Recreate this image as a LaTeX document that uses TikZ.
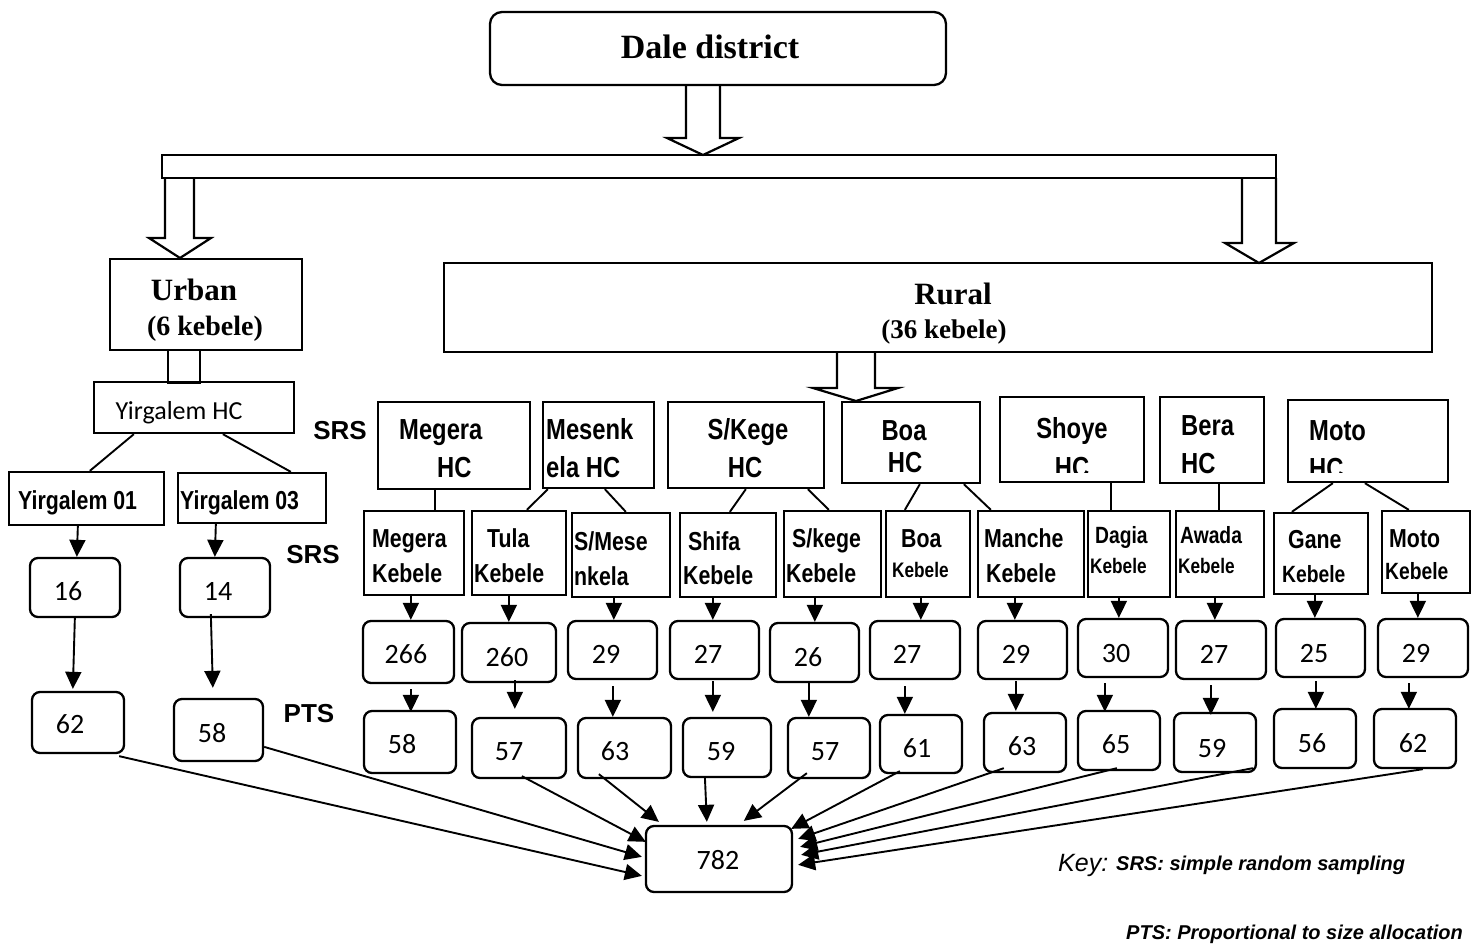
\documentclass[tikz,border=0pt]{standalone}
\usepackage{fontspec}
\setmainfont{Liberation Serif}
\newfontfamily\nb[FakeStretch=0.82]{Liberation Sans}
\newfontfamily\arl{Liberation Sans}
\newfontfamily\calib{Carlito}
\usetikzlibrary{arrows.meta,calc,fit}
\newcommand\mkbox[6][box]{\node[#1, fit={(#3,#4) (#5,#6)}] (#2) {};}
\tikzset{
 box/.style={draw, line width=2.3pt, inner sep=0pt},
 rbox/.style={box, rounded corners=8pt},
 dbox/.style={box, rounded corners=12pt},
 arr/.style={line width=1.9pt, -{Triangle[length=17pt,width=16pt]}},
 lnk/.style={line width=1.9pt},
 hollow/.style={draw, line width=2.2pt, line join=miter},
 txt/.style={inner sep=0pt, anchor=base},
 ltxt/.style={inner sep=0pt, anchor=base west},
 dalef/.style={font=\bfseries\fontsize{34}{36}\selectfont},
 urbf/.style={font=\bfseries\fontsize{31}{33}\selectfont},
 subf/.style={font=\bfseries\fontsize{28}{30}\selectfont},
 rsubf/.style={font=\bfseries\fontsize{27}{29}\selectfont},
 hcf/.style={font=\nb\bfseries\fontsize{29}{30}\selectfont},
 kf/.style={font=\nb\bfseries\fontsize{26}{28}\selectfont},
 kmf/.style={font=\nb\bfseries\fontsize{23.5}{25}\selectfont},
 ksm/.style={font=\nb\bfseries\fontsize{21}{23}\selectfont},
 numf/.style={font=\calib\fontsize{28}{30}\selectfont},
 yhcf/.style={font=\calib\fontsize{26}{28}\selectfont},
 labf/.style={font=\arl\bfseries\fontsize{26}{28}\selectfont},
 keyf/.style={font=\arl\itshape\fontsize{25}{27}\selectfont},
 keyb/.style={font=\arl\bfseries\itshape\fontsize{20}{22}\selectfont},
}
\begin{document}
\begin{tikzpicture}[x=1pt,y=-1pt]
\useasboundingbox (0,0) rectangle (1479,945);

% ---------- top ----------
\mkbox[dbox]{dale}{490}{12}{946}{85}
\node[txt,dalef] (tdale) at (710,58) {Dale district};
\mkbox{bar}{162}{155}{1276}{178}
\draw[hollow] (686,85) -- (686,138) -- (667,138) -- (703,155) -- (739,138) -- (720,138) -- (720,85);
\draw[hollow] (165,178) -- (165,238) -- (149,238) -- (180,258) -- (211,238) -- (194,238) -- (194,178);
\draw[hollow] (1242,178) -- (1242,243) -- (1225,243) -- (1259,263) -- (1294,243) -- (1276,243) -- (1276,178);

\mkbox{urban}{110}{259}{302}{350}
\node[txt,urbf] (turb1) at (194,300) {Urban};
\node[txt,subf] (turb2) at (205,335) {(6 kebele)};
\mkbox{rural}{444}{263}{1432}{352}
\node[txt,urbf] (trur1) at (953,304) {Rural};
\node[txt,rsubf] (trur2) at (944,338) {(36 kebele)};
\draw[hollow] (837,352) -- (837,388) -- (813,388) -- (856,401) -- (898,388) -- (875,388) -- (875,352);
\mkbox{ustem}{168}{350}{200}{383}

% ---------- urban branch ----------
\mkbox{yhc}{94}{382}{294}{433}
\node[txt,yhcf] (tyhc) at (179,419) {Yirgalem HC};
\mkbox{y01}{9}{472}{164}{525}
\node[ltxt,kf] (ty01) at (18,509) {Yirgalem 01};
\mkbox{y03}{178}{473}{326}{523}
\node[ltxt,kf] (ty03) at (180,509) {Yirgalem 03};
\draw[lnk] ($(yhc.south west)+(41,0)$) -- ($(y01.north west)+(82,0)$);
\draw[lnk] ($(yhc.south west)+(130,0)$) -- ($(y03.north west)+(114,0)$);

\mkbox[rbox]{b16}{30}{558}{120}{617}
\node[txt,numf] (t16) at (68,600) {16};
\mkbox[rbox]{b14}{180}{558}{270}{617}
\node[txt,numf] (t14) at (218,600) {14};
\mkbox[rbox]{y62}{32}{692}{124}{753}
\node[txt,numf] (ty62) at (70,733) {62};
\mkbox[rbox]{y58}{174}{699}{263}{761}
\node[txt,numf] (ty58) at (212,742) {58};
\draw[arr] ($(y01.south west)+(70,0)$) -- ($(b16.north west)+(48,0)$);
\draw[arr] ($(y03.south west)+(39,0)$) -- ($(b14.north west)+(36,0)$);
\draw[arr] ($(b16.south west)+(46,0)$) -- ($(y62.north west)+(42,-2)$);
\draw[arr] ($(b14.south west)+(32,-4)$) -- ($(y58.north west)+(40,-10)$);

\node[txt,labf] (srs1) at (340,439) {SRS};
\node[txt,labf] (srs2) at (313,563) {SRS};
\node[txt,labf] (pts) at (309,722) {PTS};

% ---------- health centres ----------
\mkbox{hc1}{378}{402}{530}{489}
\node[ltxt,hcf] (th1a) at (399,439) {Megera};
\node[ltxt,hcf] (th1b) at (437,477) {HC};
\mkbox{hc2}{543}{402}{654}{488}
\node[ltxt,hcf] (th2a) at (546,439) {Mesenk};
\node[ltxt,hcf] (th2b) at (546,477) {ela HC};
\mkbox{hc3}{668}{402}{824}{488}
\node[txt,hcf] (th3a) at (748,439) {S/Kege};
\node[txt,hcf] (th3b) at (745,477) {HC};
\mkbox{hc4}{842}{402}{980}{483}
\node[txt,hcf] (th4a) at (904,440) {Boa};
\node[txt,hcf] (th4b) at (905,472) {HC};
\mkbox{hc5}{1000}{397}{1144}{482}
\node[txt,hcf] (th5a) at (1072,438) {Shoye};
\begin{scope}
\clip (1000,397) rectangle (1144,472);
\node[txt,hcf] (th5b) at (1072,477) {HC};
\end{scope}
\mkbox{hc6}{1160}{397}{1264}{483}
\node[ltxt,hcf] (th6a) at (1181,435) {Bera};
\node[ltxt,hcf] (th6b) at (1181,473) {HC};
\mkbox{hc7}{1288}{400}{1448}{482}
\node[ltxt,hcf] (th7a) at (1309,440) {Moto};
\begin{scope}
\clip (1288,400) rectangle (1448,472);
\node[ltxt,hcf] (th7b) at (1309,478) {HC};
\end{scope}

% ---------- kebeles ----------
\mkbox{k1}{364}{511}{464}{595}
\node[ltxt,kf] (tk1a) at (372,547) {Megera};
\node[ltxt,kf] (tk1b) at (372,582) {Kebele};
\mkbox{k2}{472}{511}{566}{595}
\node[ltxt,kf] (tk2a) at (487,547) {Tula};
\node[ltxt,kf] (tk2b) at (474,582) {Kebele};
\mkbox{k3}{572}{513}{670}{597}
\node[ltxt,kf] (tk3a) at (574,550) {S/Mese};
\node[ltxt,kf] (tk3b) at (574,585) {nkela};
\mkbox{k4}{680}{513}{776}{597}
\node[ltxt,kf] (tk4a) at (688,550) {Shifa};
\node[ltxt,kf] (tk4b) at (683,584) {Kebele};
\mkbox{k5}{784}{511}{881}{597}
\node[ltxt,kf] (tk5a) at (792,547) {S/kege};
\node[ltxt,kf] (tk5b) at (786,582) {Kebele};
\mkbox{k6}{886}{511}{970}{597}
\node[ltxt,kf] (tk6a) at (901,547) {Boa};
\node[ltxt,ksm] (tk6b) at (892,577) {Kebele};
\mkbox{k7}{978}{511}{1084}{597}
\node[ltxt,kf] (tk7a) at (984,547) {Manche};
\node[ltxt,kf] (tk7b) at (986,582) {Kebele};
\mkbox{k8}{1088}{511}{1170}{597}
\node[ltxt,kmf] (tk8a) at (1095,543) {Dagia};
\node[ltxt,ksm] (tk8b) at (1090,573) {Kebele};
\mkbox{k9}{1176}{511}{1264}{597}
\node[ltxt,kmf] (tk9a) at (1180,543) {Awada};
\node[ltxt,ksm] (tk9b) at (1178,573) {Kebele};
\mkbox{k10}{1274}{513}{1368}{594}
\node[ltxt,kf] (tk10a) at (1288,548) {Gane};
\node[ltxt,kmf] (tk10b) at (1282,582) {Kebele};
\mkbox{k11}{1382}{511}{1470}{593}
\node[ltxt,kf] (tk11a) at (1389,547) {Moto};
\node[ltxt,kmf] (tk11b) at (1385,579) {Kebele};

% HC -> kebele
\draw[lnk] ($(hc1.south west)+(58,0)$) -- ($(k1.north west)+(72,0)$);
\draw[lnk] ($(hc2.south west)+(6,0)$) -- ($(k2.north west)+(56,0)$);
\draw[lnk] ($(hc2.south west)+(63,0)$) -- ($(k3.north west)+(55,0)$);
\draw[lnk] ($(hc3.south west)+(79,0)$) -- ($(k4.north west)+(51,0)$);
\draw[lnk] ($(hc3.south west)+(141,0)$) -- ($(k5.north west)+(46,0)$);
\draw[lnk] ($(hc4.south west)+(79,0)$) -- ($(k6.north west)+(20,0)$);
\draw[lnk] ($(hc4.south west)+(123,0)$) -- ($(k7.north west)+(14,0)$);
\draw[lnk] ($(hc5.south west)+(112,0)$) -- ($(k8.north west)+(24,0)$);
\draw[lnk] ($(hc6.south west)+(60,0)$) -- ($(k9.north west)+(44,0)$);
\draw[lnk] ($(hc7.south west)+(46,0)$) -- ($(k10.north west)+(19,0)$);
\draw[lnk] ($(hc7.south west)+(78,0)$) -- ($(k11.north west)+(28,0)$);

% ---------- counts ----------
\mkbox[rbox]{c1}{363}{621}{454}{683}
\node[txt,numf] (tc1) at (406,663) {266};
\mkbox[rbox]{c2}{462}{623}{556}{682}
\node[txt,numf] (tc2) at (507,666) {260};
\mkbox[rbox]{c3}{568}{621}{657}{679}
\node[txt,numf] (tc3) at (606,663) {29};
\mkbox[rbox]{c4}{670}{621}{759}{679}
\node[txt,numf] (tc4) at (708,663) {27};
\mkbox[rbox]{c5}{770}{623}{859}{682}
\node[txt,numf] (tc5) at (808,666) {26};
\mkbox[rbox]{c6}{870}{621}{960}{679}
\node[txt,numf] (tc6) at (907,663) {27};
\mkbox[rbox]{c7}{978}{621}{1067}{679}
\node[txt,numf] (tc7) at (1016,663) {29};
\mkbox[rbox]{c8}{1078}{619}{1168}{677}
\node[txt,numf] (tc8) at (1116,662) {30};
\mkbox[rbox]{c9}{1176}{621}{1266}{679}
\node[txt,numf] (tc9) at (1214,663) {27};
\mkbox[rbox]{c10}{1276}{619}{1365}{677}
\node[txt,numf] (tc10) at (1314,662) {25};
\mkbox[rbox]{c11}{1378}{619}{1468}{677}
\node[txt,numf] (tc11) at (1416,662) {29};

\draw[arr] ($(k1.south west)+(48,0)$) -- ($(c1.north west)+(49,0)$);
\draw[arr] ($(k2.south west)+(38,0)$) -- ($(c2.north west)+(48,0)$);
\draw[arr] ($(k3.south west)+(43,0)$) -- ($(c3.north west)+(47,0)$);
\draw[arr] ($(k4.south west)+(34,0)$) -- ($(c4.north west)+(44,0)$);
\draw[arr] ($(k5.south west)+(32,0)$) -- ($(c5.north west)+(46,0)$);
\draw[arr] ($(k6.south west)+(36,0)$) -- ($(c6.north west)+(52,0)$);
\draw[arr] ($(k7.south west)+(38,0)$) -- ($(c7.north west)+(38,0)$);
\draw[arr] ($(k8.south west)+(32,0)$) -- ($(c8.north west)+(42,0)$);
\draw[arr] ($(k9.south west)+(40,0)$) -- ($(c9.north west)+(40,0)$);
\draw[arr] ($(k10.south west)+(42,0)$) -- ($(c10.north west)+(40,0)$);
\draw[arr] ($(k11.south west)+(37,0)$) -- ($(c11.north west)+(41,0)$);

% ---------- allocated ----------
\mkbox[rbox]{d1}{364}{711}{456}{773}
\node[txt,numf] (td1) at (402,753) {58};
\mkbox[rbox]{d2}{472}{718}{566}{778}
\node[txt,numf] (td2) at (509,760) {57};
\mkbox[rbox]{d3}{578}{718}{671}{778}
\node[txt,numf] (td3) at (615,760) {63};
\mkbox[rbox]{d4}{683}{718}{771}{777}
\node[txt,numf] (td4) at (721,760) {59};
\mkbox[rbox]{d5}{788}{718}{870}{778}
\node[txt,numf] (td5) at (825,760) {57};
\mkbox[rbox]{d6}{880}{715}{962}{773}
\node[txt,numf] (td6) at (917,757) {61};
\mkbox[rbox]{d7}{984}{713}{1066}{772}
\node[txt,numf] (td7) at (1022,755) {63};
\mkbox[rbox]{d8}{1078}{711}{1160}{770}
\node[txt,numf] (td8) at (1116,753) {65};
\mkbox[rbox]{d9}{1174}{713}{1256}{772}
\node[txt,numf] (td9) at (1212,757) {59};
\mkbox[rbox]{d10}{1274}{709}{1356}{768}
\node[txt,numf] (td10) at (1312,752) {56};
\mkbox[rbox]{d11}{1374}{709}{1456}{768}
\node[txt,numf] (td11) at (1413,752) {62};

\draw[arr] ($(c1.south west)+(49,5)$) -- ($(d1.north west)+(48,2)$);
\draw[arr] ($(c2.south west)+(54,-3)$) -- ($(d2.north west)+(44,-8)$);
\draw[arr] ($(c3.south west)+(46,6)$) -- ($(d3.north west)+(36,0)$);
\draw[arr] ($(c4.south west)+(44,1)$) -- ($(d4.north west)+(31,-5)$);
\draw[arr] ($(c5.south west)+(40,0)$) -- ($(d5.north west)+(22,0)$);
\draw[arr] ($(c6.south west)+(36,6)$) -- ($(d6.north west)+(26,0)$);
\draw[arr] ($(c7.south west)+(39,1)$) -- ($(d7.north west)+(33,-1)$);
\draw[arr] ($(c8.south west)+(28,5)$) -- ($(d8.north west)+(28,2)$);
\draw[arr] ($(c9.south west)+(36,5)$) -- ($(d9.north west)+(38,3)$);
\draw[arr] ($(c10.south west)+(41,3)$) -- ($(d10.north west)+(43,1)$);
\draw[arr] ($(c11.south west)+(32,5)$) -- ($(d11.north west)+(36,1)$);

% ---------- total ----------
\mkbox[rbox]{f}{646}{826}{792}{892}
\node[txt,numf] (tf) at (718,869) {782};
\draw[arr] ($(y62.south east)+(-6,2)$) -- ($(f.north west)+(-3,51)$);
\draw[arr] ($(y58.north east)+(0,49)$) -- ($(f.north west)+(-3,32)$);
\draw[arr] ($(d2.south west)+(51,-3)$) -- ($(f.north west)+(1,17)$);
\draw[arr] ($(d3.south west)+(22,-5)$) -- ($(f.north west)+(14,-3)$);
\draw[arr] ($(d4.south west)+(23,-2)$) -- ($(f.north west)+(62,-3)$);
\draw[arr] ($(d5.south west)+(20,-6)$) -- ($(f.north west)+(99,-4)$);
\draw[arr] ($(d6.south west)+(21,-3)$) -- ($(f.north east)+(-2,4)$);
\draw[arr] ($(d7.south west)+(21,-5)$) -- ($(f.north east)+(5,14)$);
\draw[arr] ($(d8.south west)+(40,-3)$) -- ($(f.north east)+(7,22)$);
\draw[arr] ($(d9.south west)+(80,-5)$) -- ($(f.north east)+(8,30)$);
\draw[arr] ($(d11.south west)+(50,0)$) -- ($(f.north east)+(5,40)$);

% ---------- key ----------
\node[ltxt,keyf] (tkey) at (1058,871) {Key:};
\node[ltxt,keyb] (tkey1) at (1116,870) {SRS: simple random sampling};
\node[ltxt,keyb] (tkey2) at (1126,939) {PTS: Proportional to size allocation};
\end{tikzpicture}
\end{document}
